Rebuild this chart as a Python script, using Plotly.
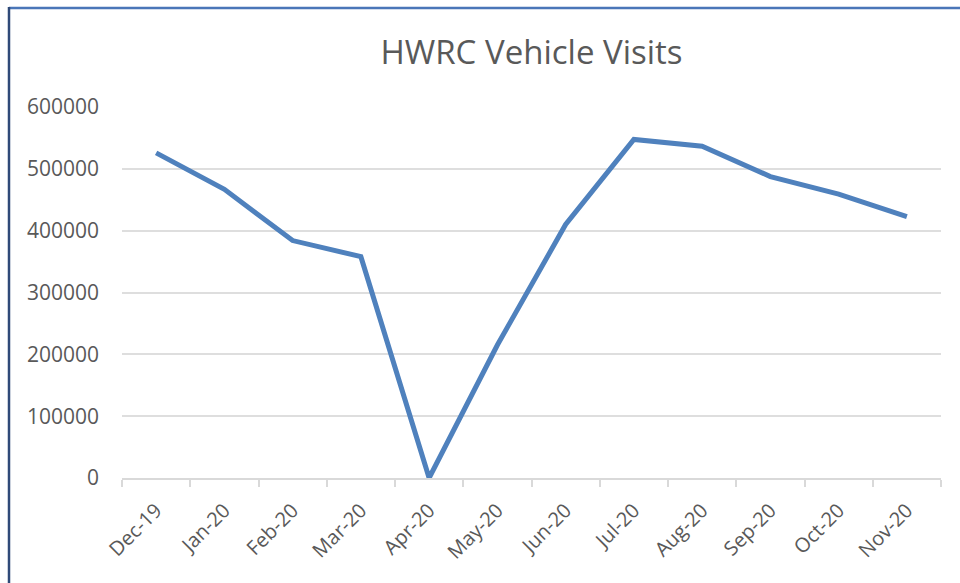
import plotly.graph_objects as go

categories = ["Dec-19", "Jan-20", "Feb-20", "Mar-20", "Apr-20", "May-20",
              "Jun-20", "Jul-20", "Aug-20", "Sep-20", "Oct-20", "Nov-20"]
visits = [525800, 467000, 384000, 358000, 0, 215000,
          410000, 547500, 536600, 487500, 459200, 422800]
y_ticks = [0, 100000, 200000, 300000, 400000, 500000, 600000]

W, H = 960, 583
L, R, T, B = 122, 19, 107, 105
pw, ph = W - L - R, H - T - B

def px_x(px):
    return (px - L) / pw

def px_y(py):
    return (H - B - py) / ph

fig = go.Figure()
fig.add_trace(go.Scatter(
    x=categories, y=visits, mode="lines",
    line=dict(color="#4f81bd", width=5),
    hoverinfo="x+y", showlegend=False,
))

fig.update_layout(
    width=W, height=H,
    margin=dict(l=L, r=R, t=T, b=B, autoexpand=False),
    paper_bgcolor="white", plot_bgcolor="white",
    font=dict(family="Open Sans, Calibri, sans-serif", color="#595959", size=20),
    title=dict(text="HWRC Vehicle Visits", x=0.5, xref="paper", xanchor="center",
               y=1 - 52 / H, yref="container", yanchor="middle",
               font=dict(size=33, color="#595959")),
    xaxis=dict(
        type="category", range=[-0.5, len(categories) - 0.5],
        tickangle=-45, tickson="boundaries",
        ticks="outside", ticklen=7, tickcolor="#d9d9d9", tickwidth=1.5,
        showline=True, linecolor="#d9d9d9", linewidth=1.5,
        showgrid=False, zeroline=False, ticklabelstandoff=11,
        tickfont=dict(size=20),
    ),
    yaxis=dict(
        range=[0, 600000], tickvals=y_ticks, ticktext=[str(v) for v in y_ticks],
        showgrid=True, gridcolor="#dedede", gridwidth=1.5,
        zeroline=False, showline=False, ticks="", ticklabelstandoff=22,
        tickfont=dict(size=21),
    ),
    shapes=[
        dict(type="line", xref="paper", yref="paper",
             x0=px_x(9), x1=px_x(W + 5), y0=px_y(8), y1=px_y(8),
             line=dict(color="#4a76b8", width=2.5)),
        dict(type="line", xref="paper", yref="paper",
             x0=px_x(9), x1=px_x(9), y0=px_y(7), y1=px_y(H + 5),
             line=dict(color="#2f4a78", width=2.5)),
    ],
)

fig.write_html("out.html", config={"displayModeBar": False},
               post_script="document.body.style.margin='0';document.body.style.overflow='hidden';")
